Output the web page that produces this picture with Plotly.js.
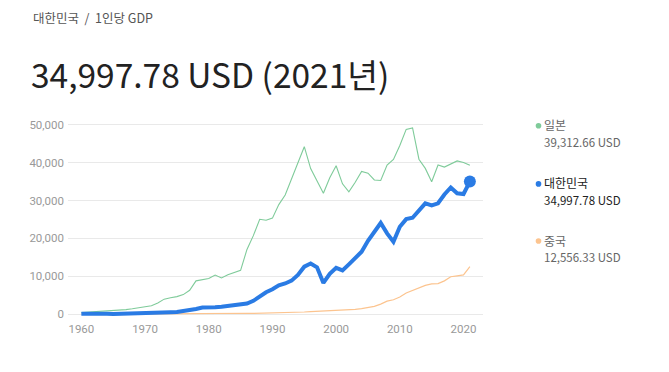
<!DOCTYPE html>
<html>
<head>
<meta charset="utf-8">
<script src="https://cdn.plot.ly/plotly-3.0.1.min.js"></script>
<style>
html,body{margin:0;padding:0;background:#fff;}
#chart{width:669px;height:372px;}
</style>
</head>
<body>
<div id="chart"></div>
<script>
var years = [];
for (var y = 1960; y <= 2021; y++) years.push(y);

var korea = [158,94,106,146,124,108,133,161,198,243,279,301,324,406,563,617,830,1052,1406,1784,1715,1883,1993,2199,2413,2482,2835,3555,4749,5817,6610,7637,8127,8885,10385,12565,13403,12398,8282,10672,12257,11561,13165,14673,16496,19403,21744,24086,21350,19144,23087,25096,25459,27180,29253,28737,29274,31601,33447,31902,31721,34998];
var japan = [476,564,634,721,835,920,1059,1229,1451,1669,2037,2272,2967,3998,4354,4659,5198,6335,8821,9105,9463,10361,9578,10425,10984,11585,17112,20745,25052,24813,25359,28925,31465,35766,39934,44198,38437,35022,31903,36027,39169,34406,32289,34808,37689,37218,35434,35275,39339,40855,44508,48760,49145,40898,38475,34961,39375,38834,39727,40458,40040,39313];
var china = [90,76,70,74,85,98,104,97,91,100,113,119,132,157,160,178,165,185,156,184,195,197,203,225,251,294,282,251,284,311,318,333,366,377,473,610,709,782,829,873,959,1053,1149,1289,1509,1753,2099,2694,3468,3832,4550,5614,6301,7020,7636,8016,8094,8817,9905,10144,10409,12556];

var seriesNames = ['일본', '대한민국', '중국'];
var seriesValues = ['39,312.66 USD', '34,997.78 USD', '12,556.33 USD'];
var crumb = '대한민국  /  1인당 GDP';
var headline = '34,997.78 USD (2021년)';
var yTicks = [0, 10000, 20000, 30000, 40000, 50000];
var yTickText = ['0', '10,000', '20,000', '30,000', '40,000', '50,000'];
var xTicks = [1960, 1970, 1980, 1990, 2000, 2010, 2020];

var cGreen = '#7fcb9a', cBlue = '#2a7be4', cOrange = '#fcc48f';

var L = 68, R = 483, T = 119.3, B = 319.7;
function px(x){ return (x - L) / (R - L); }
function py(y){ return (B - y) / (B - T); }

var font = '"Noto Sans CJK KR", "Noto Sans", sans-serif';
var tickFont = 'Roboto, "Noto Sans CJK KR", sans-serif';

var traces = [
  {x: years, y: china, type: 'scatter', mode: 'lines', line: {color: cOrange, width: 1.2}, hoverinfo: 'skip'},
  {x: years, y: japan, type: 'scatter', mode: 'lines', line: {color: cGreen, width: 1.1}, hoverinfo: 'skip'},
  {x: years, y: korea, type: 'scatter', mode: 'lines', line: {color: cBlue, width: 4}, hoverinfo: 'skip'},
  {x: [years[years.length-1]], y: [korea[korea.length-1]], type: 'scatter', mode: 'markers',
   marker: {color: cBlue, size: 12}, cliponaxis: false, hoverinfo: 'skip'}
];

var legendY = [125, 183, 240];
var valueY = [142, 200, 257];
var dotColors = [cGreen, cBlue, cOrange];
var nameColors = ['#666', '#222', '#666'];

var annotations = [
  {text: crumb, xref: 'paper', yref: 'paper', x: px(31), y: py(18), xanchor: 'left', yanchor: 'middle',
   showarrow: false, font: {family: font, size: 12.5, color: '#555'}},
  {text: headline, xref: 'paper', yref: 'paper', x: px(29), y: py(74), xanchor: 'left', yanchor: 'middle',
   showarrow: false, font: {family: font, size: 33.5, color: '#222'}}
];
var shapes = [];
for (var i = 0; i < 3; i++) {
  annotations.push({text: seriesNames[i], xref: 'paper', yref: 'paper', x: px(542), y: py(legendY[i]),
    xanchor: 'left', yanchor: 'middle', showarrow: false, font: {family: font, size: 12, color: nameColors[i]}});
  annotations.push({text: seriesValues[i], xref: 'paper', yref: 'paper', x: px(542), y: py(valueY[i]),
    xanchor: 'left', yanchor: 'middle', showarrow: false, font: {family: font, size: 11.5, color: nameColors[i]}});
  shapes.push({type: 'circle', xref: 'paper', yref: 'paper', xsizemode: 'pixel', ysizemode: 'pixel',
    xanchor: px(538.5), yanchor: py(legendY[i] + 1), x0: -2.8, x1: 2.8, y0: -2.8, y1: 2.8,
    fillcolor: dotColors[i], line: {width: 0}});
}

var layout = {
  width: 669, height: 372,
  margin: {l: L, r: 669 - R, t: T, b: 372 - B, pad: 0},
  paper_bgcolor: '#fff', plot_bgcolor: '#fff',
  showlegend: false,
  font: {family: font},
  xaxis: {range: [1957.9, 2023.06], tickvals: xTicks, showgrid: false, zeroline: false, showline: false,
    ticks: '', tickfont: {family: tickFont, size: 11.5, color: '#999'}, fixedrange: true},
  yaxis: {range: [-1500, 51500], tickvals: yTicks, ticktext: yTickText, showgrid: true, gridcolor: '#e9e9e9',
    gridwidth: 1, zeroline: false, showline: false, ticks: '', ticklabelstandoff: 3,
    tickfont: {family: tickFont, size: 11.5, color: '#999'}, fixedrange: true},
  annotations: annotations,
  shapes: shapes
};

Plotly.newPlot('chart', traces, layout, {displayModeBar: false, staticPlot: true});
</script>
</body>
</html>
